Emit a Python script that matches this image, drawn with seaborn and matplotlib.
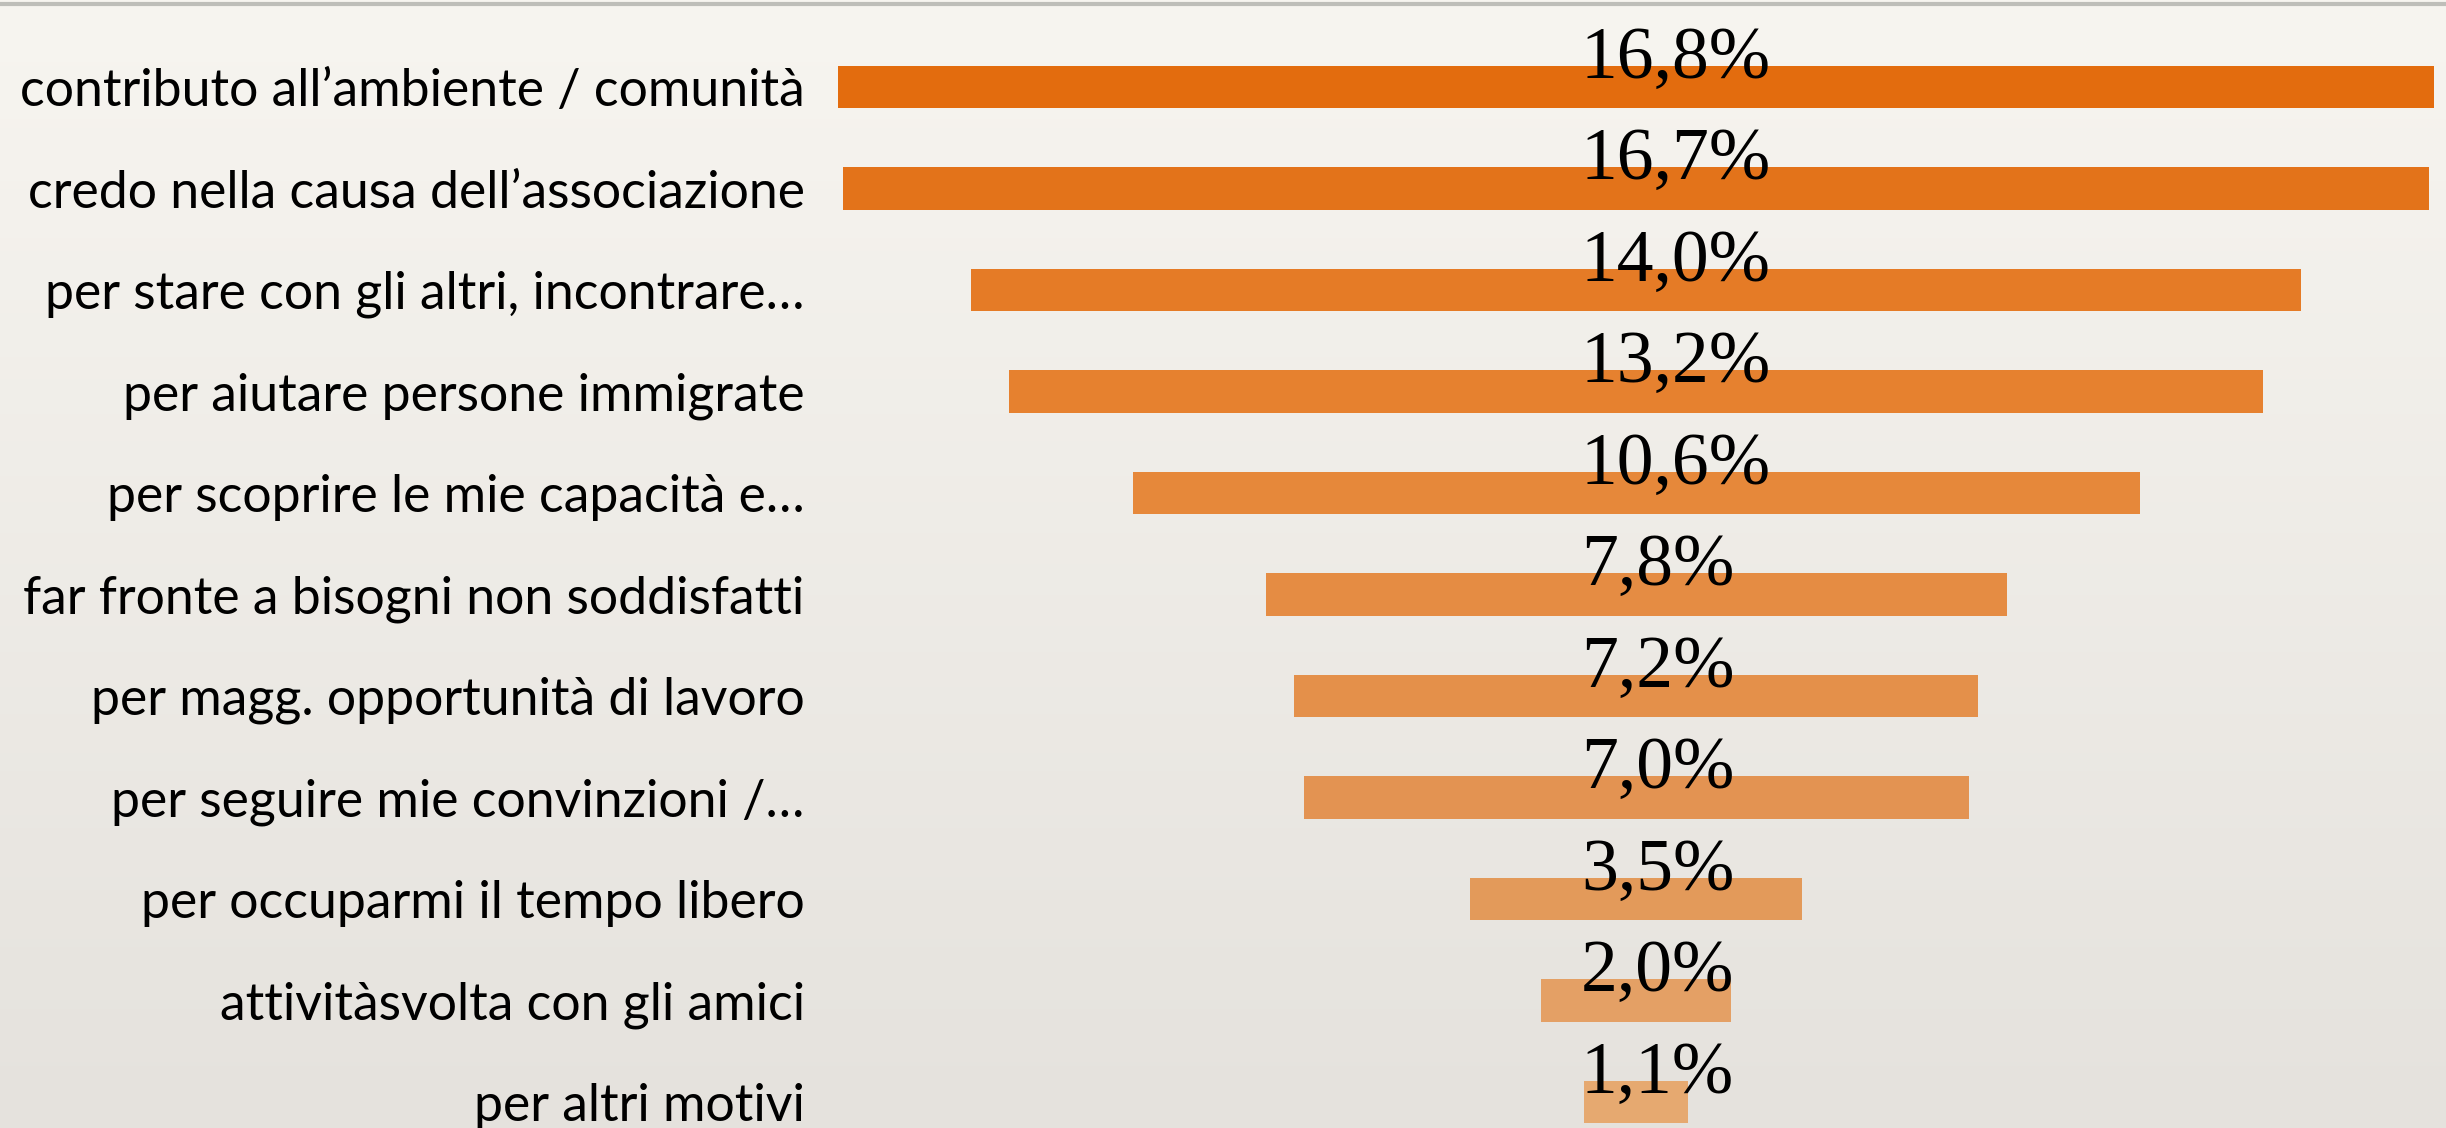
import numpy as np
import pandas as pd
import seaborn as sns
import matplotlib.pyplot as plt
from matplotlib.lines import Line2D

# dati (percentuali)
motivi = [
    "contributo all’ambiente / comunità",
    "credo nella causa dell’associazione",
    "per stare con gli altri, incontrare…",
    "per aiutare persone immigrate",
    "per scoprire le mie capacità e…",
    "far fronte a bisogni non soddisfatti",
    "per magg. opportunità di lavoro",
    "per seguire mie convinzioni /…",
    "per occuparmi il tempo libero",
    "attivitàsvolta con gli amici",
    "per altri motivi",
]
valori = [16.8, 16.7, 14.0, 13.2, 10.6, 7.8, 7.2, 7.0, 3.5, 2.0, 1.1]
etichette = ["16,8%", "16,7%", "14,0%", "13,2%", "10,6%", "7,8%", "7,2%", "7,0%", "3,5%", "2,0%", "1,1%"]
colori = ["#E36C0E", "#E3731A", "#E57B26", "#E6812F", "#E6883A", "#E58C43",
          "#E4904A", "#E39352", "#E39A5A", "#E4A065", "#E6A970"]

df = pd.DataFrame({"motivo": motivi, "valore": valori})
df["meta"] = df["valore"] / 2
df["meta_neg"] = -df["valore"] / 2

W, H = 2446, 1128
fig = plt.figure(figsize=(W / 100, H / 100), dpi=100)

# sfondo tipo carta (gradiente verticale)
bg = fig.add_axes([0, 0, 1, 1], zorder=0)
grad = np.linspace(0, 1, 256).reshape(-1, 1)
top = np.array([247, 245, 240]) / 255
bot = np.array([229, 226, 221]) / 255
img = top + (bot - top) * grad[:, :, None]
bg.imshow(img, aspect="auto", extent=[0, 1, 0, 1], origin="upper")
bg.axis("off")
fig.add_artist(Line2D([0, 1], [1 - 3.5 / H, 1 - 3.5 / H], transform=fig.transFigure,
                      color="#BEBEB9", linewidth=3))

# area del grafico
x_left = 820
ax = fig.add_axes([x_left / W, 0, 1 - x_left / W, 1], zorder=1)
ax.patch.set_alpha(0)

sns.barplot(data=df, y="motivo", x="meta", hue="motivo", palette=colori,
            width=0.414, legend=False, ax=ax, orient="h", saturation=1)
sns.barplot(data=df, y="motivo", x="meta_neg", hue="motivo", palette=colori,
            width=0.414, legend=False, ax=ax, orient="h", saturation=1)
for p in ax.patches:
    p.set_linewidth(0)

px_per = 95.0
centro = 1636
ax.set_xlim(-(centro - x_left) / px_per, (W - centro) / px_per)
ax.set_ylim((H - 87) / 101.5, -87 / 101.5)

for i, lab in enumerate(etichette):
    ax.text(-0.58, i - 0.09, lab, ha="left", va="baseline",
            fontsize=53, family="Liberation Serif", color="black", zorder=5)

ax.set_xlabel("")
ax.set_ylabel("")
ax.set_xticks([])
ax.tick_params(axis="y", length=0, pad=11)
for t in ax.get_yticklabels():
    t.set_fontfamily("Lato")
    t.set_fontsize(37.3)
    t.set_color("black")
for s in ax.spines.values():
    s.set_visible(False)

plt.savefig("out.png", dpi=100)
plt.close()
